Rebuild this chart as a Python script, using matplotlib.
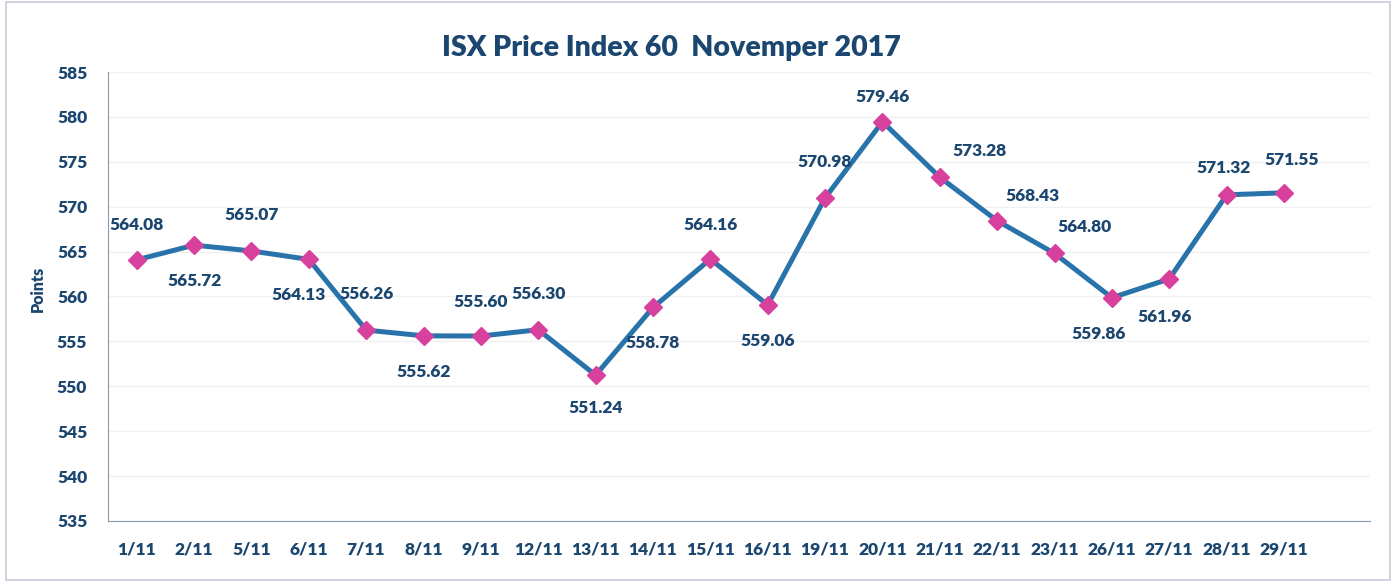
import matplotlib
matplotlib.use("Agg")
import matplotlib.pyplot as plt
from matplotlib.patches import Rectangle

dates = ["1/11", "2/11", "5/11", "6/11", "7/11", "8/11", "9/11", "12/11", "13/11", "14/11",
         "15/11", "16/11", "19/11", "20/11", "21/11", "22/11", "23/11", "26/11", "27/11",
         "28/11", "29/11"]
values = [564.08, 565.72, 565.07, 564.13, 556.26, 555.62, 555.60, 556.30, 551.24, 558.78,
          564.16, 559.06, 570.98, 579.46, 573.28, 568.43, 564.80, 559.86, 561.96, 571.32, 571.55]
# label offsets in pixels (dx, dy)
offsets = [(0, 35), (0, -36), (0, 36), (-10, -36), (0, 36), (0, -36), (0, 34), (0, 36), (0, -33), (0, -36),
           (0, 34), (0, -36), (0, 36), (0, 25), (40, 26), (35, 25), (30, 26), (-13, -36), (-5, -38),
           (-3, 27), (8, 33)]

plt.rcParams['font.family'] = ['Lato', 'DejaVu Sans']
fig = plt.figure(figsize=(13.96, 5.84), dpi=100)
fig.patches.append(Rectangle((0.004, 0.006), 0.992, 0.99, transform=fig.transFigure,
                             fill=False, edgecolor='#C8CCD8', linewidth=1.2))
ax = fig.add_axes([0.0774, 0.1079, 0.9040, 0.7688])

blue_txt = '#1B466F'
x = list(range(len(dates)))
ax.plot(x, values, color='#2874AA', linewidth=3.6, marker='D', markersize=9,
        markerfacecolor='#D8409E', markeredgecolor='#D8409E', zorder=3)

for xi, v, (dx, dy) in zip(x, values, offsets):
    ax.annotate(f"{v:.2f}", (xi, v), xytext=(dx * 0.72, dy * 0.72), textcoords='offset points',
                ha='center', va='center', fontsize=12.5, fontweight='heavy', color=blue_txt)

ax.set_xlim(-0.5, 21.5)
ax.set_ylim(535, 585)
ax.set_yticks(range(535, 590, 5))
ax.set_xticks(x)
ax.set_xticklabels(dates)
ax.tick_params(axis='both', length=0, labelsize=12.5, labelcolor=blue_txt, pad=15)
for lab in ax.get_xticklabels() + ax.get_yticklabels():
    lab.set_fontweight('heavy')
ax.grid(axis='y', color='#F0F0F0', linewidth=1)
ax.set_axisbelow(True)
for s in ['top', 'right']:
    ax.spines[s].set_visible(False)
ax.spines['left'].set_color('#8A9AAA')
ax.spines['bottom'].set_color('#8A9AAA')

fig.text(0.027, 0.505, 'Points', rotation=90, ha='center', va='center', fontsize=11.5,
         fontweight='heavy', color=blue_txt)
fig.text(0.481, 0.917, 'ISX Price Index 60  Novemper 2017', ha='center', va='center',
         fontsize=20.5, fontweight='heavy', color=blue_txt)

fig.savefig('out.png', dpi=100)
